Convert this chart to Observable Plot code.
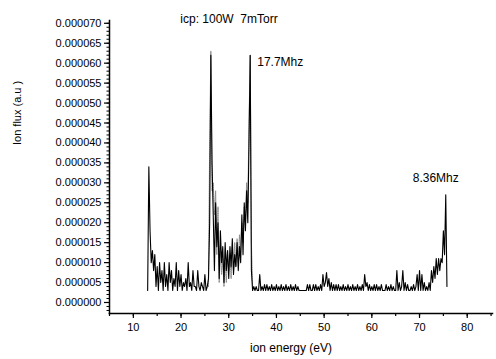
<!DOCTYPE html>
<html>
<head>
<meta charset="utf-8">
<script src="https://cdn.jsdelivr.net/npm/d3@7"></script>
<script src="https://cdn.jsdelivr.net/npm/@observablehq/plot@0.6"></script>
<style>
  html, body { margin: 0; padding: 0; background: #fff; }
</style>
</head>
<body>
<div id="chart"></div>
<script>
// ---- data (flux in units of 1e-6 a.u.) ----
const titleText = "icp: 100W  7mTorr";
const xLabel = "ion energy (eV)";
const yLabel = "Ion flux (a.u )";
const seriesLabels = ["17.7Mhz", "8.36Mhz"];

const energyStep = 0.25;

// solid black trace, starts at 13.0 eV
const startBlack = 13.0;
const fluxBlack = [
  3, 34, 18, 10, 13, 8, 12, 4,
  9, 3, 10, 5, 8, 3, 10, 4,
  7, 3, 10, 5, 8, 3, 6, 4,
  10, 3, 8, 4, 7, 3, 5, 4,
  6, 3, 10, 4, 5, 3, 8, 4,
  4, 3, 8, 4, 3, 5, 4, 3,
  7, 3, 4, 6, 20, 62, 35, 22,
  8, 25, 14, 20, 6, 18, 10, 14,
  5, 15, 8, 13, 6, 14, 9, 16,
  7, 12, 9, 15, 8, 14, 10, 22,
  12, 25, 18, 28, 20, 40, 62, 8,
  3, 4, 3, 4, 3, 3, 7, 3,
  4, 3, 4.5, 3, 4.5, 3, 4, 3,
  4.5, 3, 4, 3, 4.5, 3, 4, 3,
  4.5, 3, 4, 3, 4.5, 3, 4, 3,
  4.5, 3, 4, 3, 4.5, 3, 4, 3,
  3, 3, 3, 3, 3, 3, 4.5, 3,
  4.5, 3, 3, 4.5, 3, 4.5, 3, 4,
  3, 4.5, 3, 7, 4, 5, 7.5, 4,
  6, 3, 5, 3, 4.5, 3, 4.5, 3,
  4.5, 3, 4, 3, 4.5, 3, 4, 3,
  4.5, 3, 4, 3, 4.5, 3, 4, 3,
  4.5, 3, 4, 3, 4.5, 3, 7, 4,
  5, 3, 4.5, 3, 4, 3, 4.5, 3,
  4.5, 3, 4, 3, 4.5, 3, 3, 3,
  4.5, 3, 4, 3, 4.5, 3, 4, 3,
  3, 8, 3, 5, 3, 4, 8, 3,
  5, 3, 4.5, 3, 3, 4, 3, 4.5,
  3, 4, 7, 3, 8, 3, 7, 3,
  5, 3, 4, 3, 5, 3, 8, 5,
  9, 6, 11, 7, 11, 8, 11, 10,
  18, 12, 27, 4
];

// dotted grey trace, starts at 25.75 eV
const startGrey = 25.75;
const fluxGrey = [
  4, 40, 63, 28, 30, 22, 28, 12,
  24, 5, 14, 7, 11, 4, 10, 5,
  13, 8, 12, 6, 14, 8, 15, 9,
  16, 10, 17, 13, 20, 15, 24, 20,
  30, 25, 45, 62, 15, 4
];

const yTicks = [0, 5, 10, 15, 20, 25, 30, 35, 40, 45, 50, 55, 60, 65, 70];
const xTicks = [10, 20, 30, 40, 50, 60, 70, 80];

// ---- build tables ----
const black = fluxBlack.map((f, i) => ({e: startBlack + i * energyStep, f, s: seriesLabels[1]}));
const grey = fluxGrey.map((f, i) => ({e: startGrey + i * energyStep, f, s: seriesLabels[0]}));

const yMinor = d3.range(-2, 71, 1);
const xMinor = d3.range(5, 86, 5);

const chart = Plot.plot({
  width: 496,
  height: 359,
  marginLeft: 109,
  marginRight: 4,
  marginTop: 20,
  marginBottom: 46,
  style: {fontFamily: "'Liberation Sans', Arial, sans-serif", fontSize: "11px", color: "#000", background: "#fff"},
  x: {domain: [5, 85.3], label: null},
  y: {domain: [-2.76, 70.7], label: null},
  marks: [
    Plot.frame({anchor: "left", stroke: "#000", strokeWidth: 1.5}),
    Plot.frame({anchor: "bottom", stroke: "#000", strokeWidth: 1.5}),
    Plot.axisY(yMinor, {tickSize: 2.5, tickFormat: () => "", strokeWidth: 1}),
    Plot.axisY(yTicks, {tickSize: 5, tickPadding: 3, strokeWidth: 1.2,
      tickFormat: d => (d * 1e-6).toFixed(6), fontSize: 11}),
    Plot.axisX(xMinor, {tickSize: 3, tickFormat: () => "", strokeWidth: 1.2}),
    Plot.axisX(xTicks, {tickSize: 5, tickPadding: 5, strokeWidth: 1.2, fontSize: 11}),
    Plot.line(grey, {x: "e", y: "f", stroke: "#8a8a8a", strokeWidth: 1, strokeDasharray: "1.2,1"}),
    Plot.line(black, {x: "e", y: "f", stroke: "#000", strokeWidth: 1.1}),
    Plot.text(grey, Plot.selectMaxY({filter: d => d.e > 30, x: "e", y: "f", text: "s", textAnchor: "start", dx: 7, dy: 7, fontSize: 12})),
    Plot.text(black, Plot.selectMaxY({filter: d => d.e > 50, x: "e", y: "f", text: "s", textAnchor: "end", dx: 13, dy: -17, fontSize: 12})),
    Plot.text([titleText], {frameAnchor: "top", text: d => d, dx: -72, dy: -6, fontSize: 12}),
    Plot.text([yLabel], {frameAnchor: "left", text: d => d, rotate: -90, dx: -92, dy: -22, fontSize: 11}),
    Plot.text([xLabel], {frameAnchor: "bottom", text: d => d, dx: -10, dy: 38, fontSize: 12})
  ]
});
document.getElementById("chart").appendChild(chart);
</script>
</body>
</html>
